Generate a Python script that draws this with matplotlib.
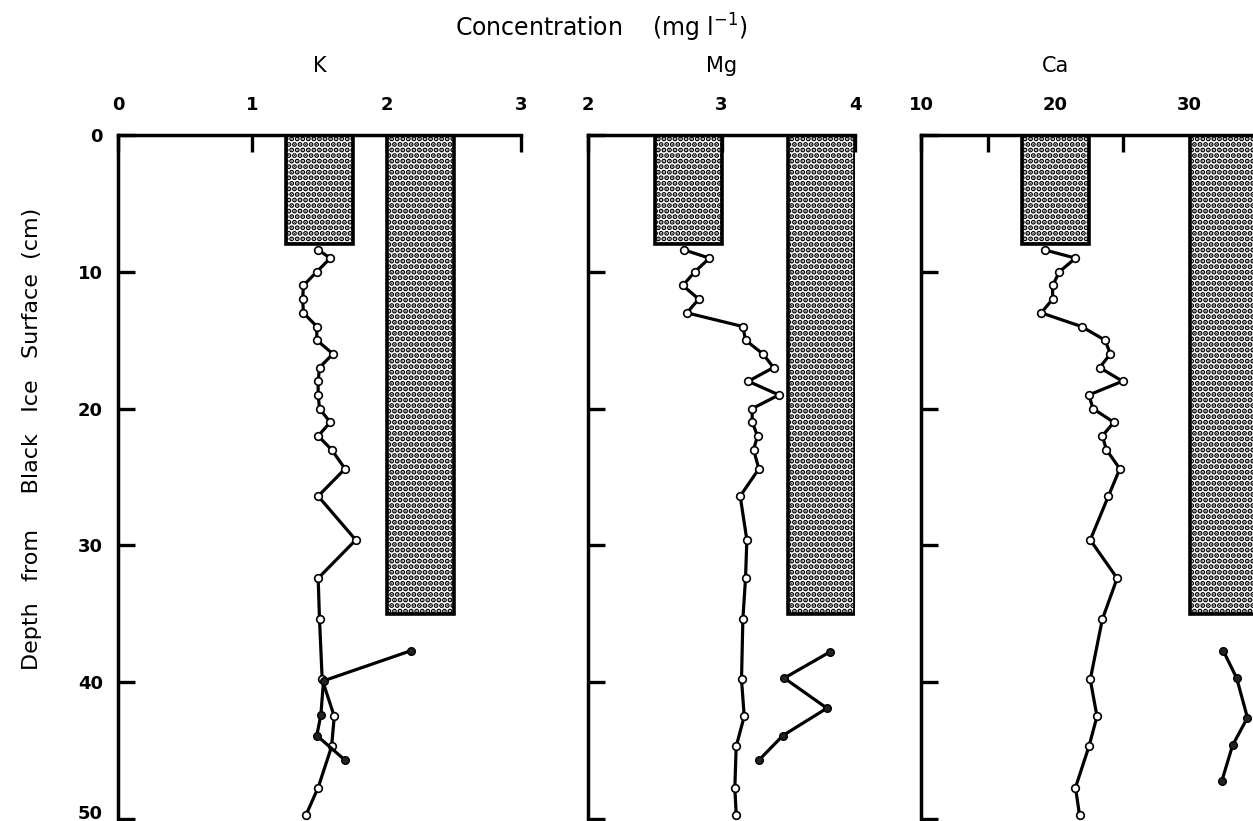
import matplotlib
matplotlib.use("Agg")
import matplotlib.pyplot as plt
from matplotlib.transforms import blended_transform_factory, ScaledTranslation

# ---------------- data ----------------
depth_open = [8.4, 9.0, 10.0, 11.0, 12.0, 13.0, 14.0, 15.0, 16.0, 17.0, 18.0, 19.0, 20.0,
              21.0, 22.0, 23.0, 24.4, 26.4, 29.6, 32.4, 35.4, 39.8, 42.5, 44.7, 47.7, 49.7]

k_open = [1.49, 1.58, 1.48, 1.38, 1.375, 1.38, 1.48, 1.48, 1.60, 1.50, 1.49, 1.49, 1.50,
          1.58, 1.49, 1.59, 1.69, 1.49, 1.77, 1.49, 1.50, 1.52, 1.61, 1.59, 1.49, 1.40]
mg_open = [2.72, 2.91, 2.80, 2.71, 2.83, 2.74, 3.16, 3.18, 3.31, 3.39, 3.20, 3.43, 3.23,
           3.23, 3.27, 3.24, 3.28, 3.14, 3.19, 3.18, 3.16, 3.15, 3.17, 3.11, 3.10, 3.11]
ca_open = [19.2, 21.5, 20.3, 19.8, 19.8, 18.95, 21.95, 23.7, 24.1, 23.3, 25.0, 22.5, 22.8,
           24.35, 23.5, 23.8, 24.8, 23.95, 22.6, 24.6, 23.5, 22.6, 23.1, 22.5, 21.5, 21.8]

k_fill_depth = [37.7, 39.9, 42.4, 43.9, 45.7]
k_fill = [2.18, 1.53, 1.51, 1.48, 1.69]
mg_fill_depth = [37.8, 39.7, 41.9, 43.9, 45.7]
mg_fill = [3.81, 3.47, 3.79, 3.46, 3.28]
ca_fill_depth = [37.7, 39.7, 42.6, 44.6, 47.2]
ca_fill = [32.5, 33.5, 34.3, 33.2, 32.4]

# bars: (left value, right value, bottom depth)
k_bars = [(1.25, 1.75, 8), (2.0, 2.5, 35)]
mg_bars = [(2.5, 3.0, 8), (3.5, 4.0, 35)]
ca_bars = [(17.5, 22.5, 8), (30.0, 35.0, 35)]

k_ticks = [0, 1, 2, 3]
mg_ticks = [2, 3, 4]
ca_ticks = [10, 20, 30]
ca_minor = [15, 25, 35]
depth_ticks = [0, 10, 20, 30, 40, 50]

panel_names = ["K", "Mg", "Ca"]

# ---------------- figure ----------------
plt.rcParams['hatch.linewidth'] = 2.6
W, H = 1253, 821
fig = plt.figure(figsize=(W / 100, H / 100), dpi=100)

top_px, bot_px = 135, 819


def rect(x0, x1):
    return [x0 / W, 1 - bot_px / H, (x1 - x0) / W, (bot_px - top_px) / H]


panels = [
    dict(name=panel_names[0], rect=rect(118, 521), xlim=(0, 3), ticks=k_ticks, minor=[],
         openv=k_open, fd=k_fill_depth, fv=k_fill, bars=k_bars, title_x=1.5),
    dict(name=panel_names[1], rect=rect(588, 855), xlim=(2, 4), ticks=mg_ticks, minor=[],
         openv=mg_open, fd=mg_fill_depth, fv=mg_fill, bars=mg_bars, title_x=3.0),
    dict(name=panel_names[2], rect=rect(921, 1324), xlim=(10, 40), ticks=ca_ticks, minor=ca_minor,
         openv=ca_open, fd=ca_fill_depth, fv=ca_fill, bars=ca_bars, title_x=20.0),
]

for i, p in enumerate(panels):
    ax = fig.add_axes(p["rect"])
    ax.set_xlim(*p["xlim"])
    ax.set_ylim(50, 0)
    ax.set_axisbelow(True)
    for s in ["right", "bottom"]:
        ax.spines[s].set_visible(False)
    for s in ["left", "top"]:
        ax.spines[s].set_linewidth(2.5)
        ax.spines[s].set_zorder(4)

    # bars
    for (x0, x1, d) in p["bars"]:
        ax.bar(x0, d, width=x1 - x0, bottom=0, align="edge", facecolor="white",
               edgecolor="black", linewidth=2.6, hatch="...", zorder=2)

    # open-circle profile
    ax.plot(p["openv"], depth_open, color="black", lw=2.3, marker="o", ms=5.5,
            mfc="white", mec="black", mew=1.2, clip_on=False, zorder=5)
    # filled-circle profile
    ax.plot(p["fv"], p["fd"], color="black", lw=2.3, marker="o", ms=5.5,
            mfc="#222222", mec="black", mew=1.0, clip_on=False, zorder=6)

    ax.xaxis.tick_top()
    ax.set_xticks(p["ticks"])
    ax.set_xticklabels([str(t) for t in p["ticks"]], fontweight="heavy", fontsize=13)
    if p["minor"]:
        ax.set_xticks(p["minor"], minor=True)
    ax.tick_params(axis="x", which="both", direction="in", length=12, width=2.4,
                   pad=15, top=True, bottom=False)
    ax.set_yticks(depth_ticks)
    ax.tick_params(axis="y", direction="in", length=12, width=2.4, pad=11)
    if i == 0:
        ax.set_yticklabels([str(t) for t in depth_ticks], fontweight="heavy", fontsize=13)
        lbl50 = ax.yaxis.get_major_ticks()[-1].label1
        lbl50.set_transform(lbl50.get_transform() +
                            ScaledTranslation(0, 7 / 100, fig.dpi_scale_trans))
    else:
        ax.set_yticklabels([])

    tr = blended_transform_factory(ax.transData, fig.transFigure)
    ax.text(p["title_x"], 1 - 66 / H, p["name"], transform=tr, ha="center",
            va="center", fontsize=15)

fig.text(601 / W, 1 - 28 / H, "Concentration    (mg l$^{-1}$)", ha="center",
         va="center", fontsize=17)
fig.text(32 / W, 1 - 439 / H, "Depth   from     Black   Ice   Surface  (cm)",
         rotation=90, ha="center", va="center", fontsize=16)

fig.savefig("out.png", dpi=100)
